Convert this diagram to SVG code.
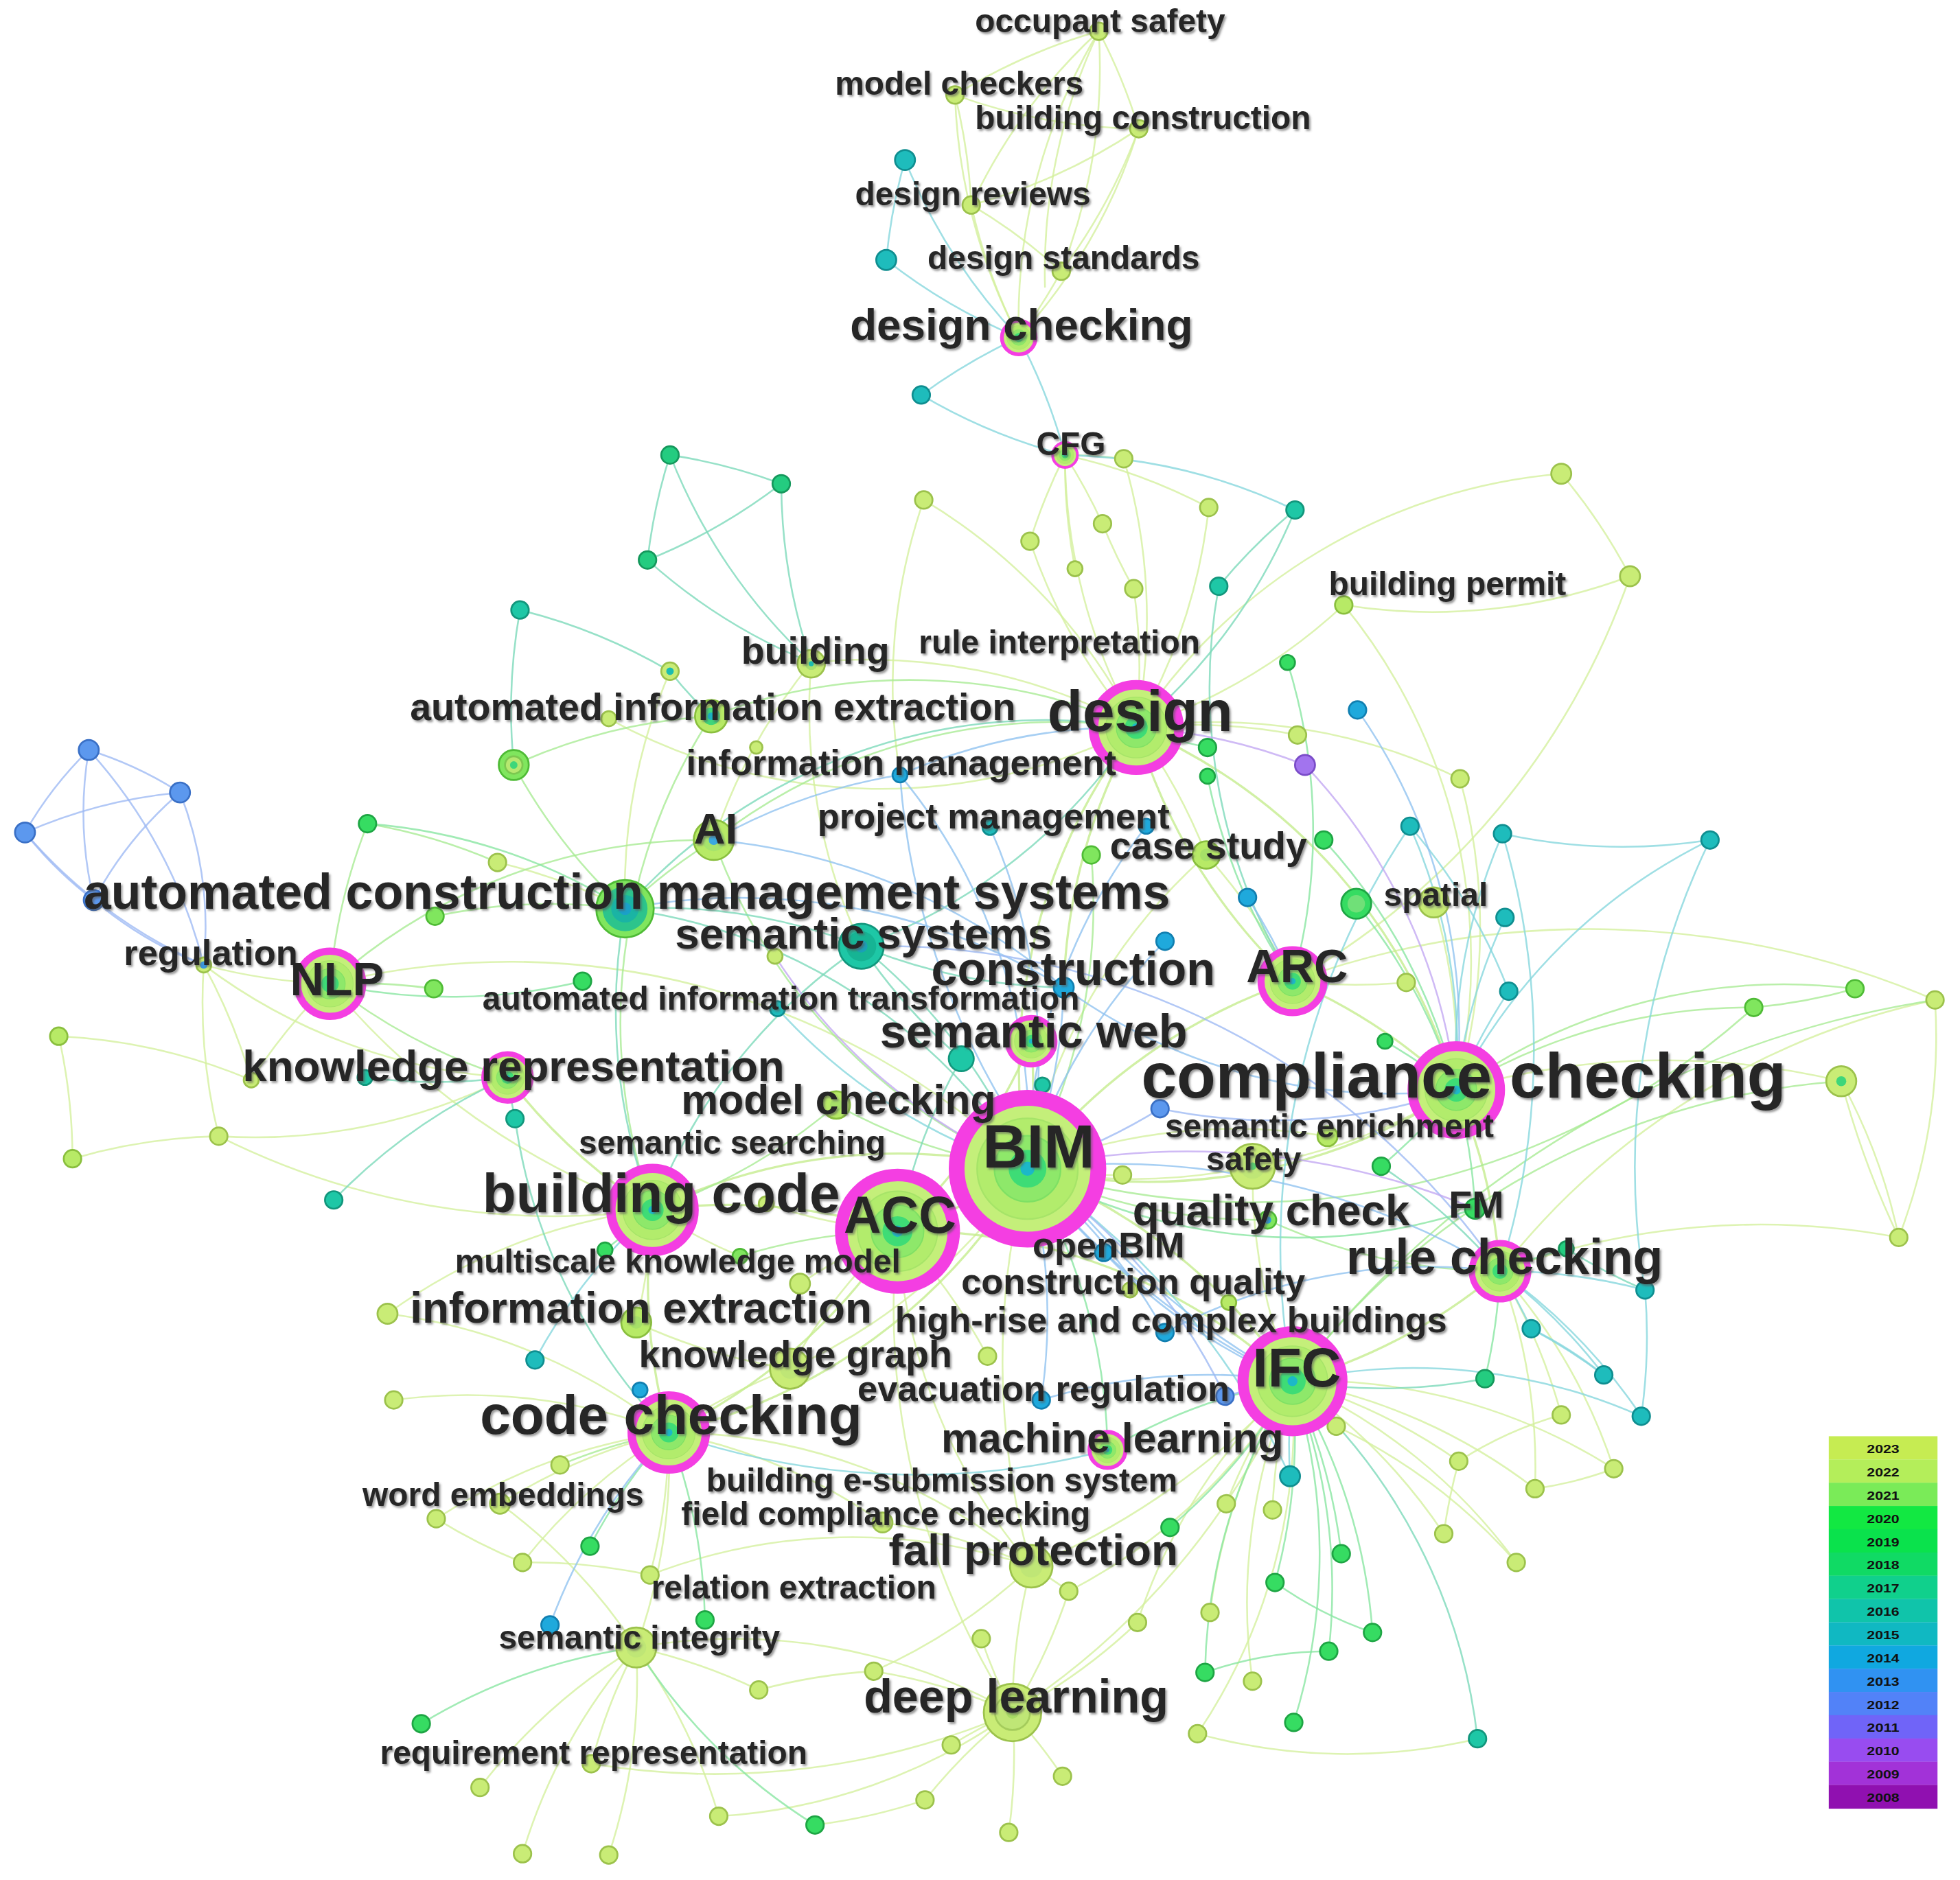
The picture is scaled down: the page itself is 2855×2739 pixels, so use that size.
<svg xmlns="http://www.w3.org/2000/svg" xmlns:xlink="http://www.w3.org/1999/xlink" width="2855" height="2739" viewBox="0 0 2855 2739">
<defs>
<style>
.e path{fill:none;stroke-width:1.4;stroke-opacity:0.78}
.e23 path{stroke:#d3f09c}
.e21 path{stroke:#a6ea92}
.e20 path{stroke:#86e6a0}
.e18 path{stroke:#7ad9b8}
.e16 path{stroke:#84d6dc}
.e14 path{stroke:#8ec2f0}
.e12 path{stroke:#9cb8f4}
.e10 path{stroke:#c2a6f2}
.hubE path{stroke:#c4ec8c;stroke-width:1.8}
.n circle{stroke-width:1.5}
.y23{fill:#c9ec76;stroke:#9cc24c}
.y22{fill:#b7ea66;stroke:#8abf3e}
.y21{fill:#80e65e;stroke:#4fbb36}
.y20{fill:#36dc62;stroke:#1ea544}
.y18{fill:#24cc80;stroke:#15985c}
.y17{fill:#1ec7a6;stroke:#12967c}
.y16{fill:#1ebcbc;stroke:#0f8e90}
.y14{fill:#1fa9dc;stroke:#117fb0}
.y12{fill:#5c98ee;stroke:#3a70c6}
.y10{fill:#a274ee;stroke:#7a4cc8}
.lb{font-family:"Liberation Sans",Arial,Helvetica,sans-serif;font-weight:bold;fill:#262626;filter:url(#sh)}
.f26{font-size:26.3px}.f29{font-size:28.8px}.f30{font-size:30.5px}.f33{font-size:33.3px}
.f35{font-size:35px}.f37{font-size:37.5px}.f39{font-size:39.3px}.f42{font-size:41.5px}
.f44{font-size:44px}.f46{font-size:46px}.f49{font-size:49px}.f51{font-size:51px}
.lg{font-family:"Liberation Sans",Arial,sans-serif;font-weight:bold;font-size:9.5px;fill:#111;text-anchor:middle}
</style>
<filter id="sh" x="-5%" y="-20%" width="110%" height="150%">
<feDropShadow dx="1.3" dy="1.5" stdDeviation="1" flood-color="#555" flood-opacity="0.6"/>
</filter>
<g id="hub">
<circle r="0.9" fill="#c4ef7a" stroke="#f43ee2" stroke-width="0.2"/>
<circle r="0.64" fill="#b2ec6c" stroke="#a6e468" stroke-width="0.02"/>
<circle r="0.42" fill="#8ee86a" stroke="#7ee064" stroke-width="0.02"/>
<circle r="0.24" fill="#3edc76"/>
<circle r="0.09" fill="#1cb8c8"/>
</g>
</defs>
<rect width="2855" height="2739" fill="#ffffff"/>
<g transform="scale(1.8208,1.8211)">
<g id="connectors">
<g class="e e23">
<path d="M879 25A450 450 0 0 0 764 76"/><path d="M879 25A450 450 0 0 0 777 164"/><path d="M879 25A450 450 0 0 1 911 103"/><path d="M879 25A450 450 0 0 1 849 217"/><path d="M879 25A450 450 0 0 0 815 270"/>
<path d="M764 76A450 450 0 0 1 777 164"/><path d="M764 76A450 450 0 0 0 815 270"/><path d="M764 76A450 450 0 0 0 911 103"/><path d="M911 103A450 450 0 0 1 777 164"/><path d="M911 103A450 450 0 0 1 849 217"/><path d="M911 103A450 450 0 0 1 815 270"/><path d="M777 164A450 450 0 0 1 849 217"/><path d="M777 164A450 450 0 0 0 815 270"/><path d="M849 217A450 450 0 0 1 815 270"/><path d="M879 25A450 450 0 0 0 836 230"/>
<path d="M852 364A450 450 0 0 1 899 367"/><path d="M852 364A450 450 0 0 0 909 582"/><path d="M852 364A450 450 0 0 1 967 406"/><path d="M852 364A450 450 0 0 0 824 433"/><path d="M852 364A450 450 0 0 1 882 419"/><path d="M852 364A450 450 0 0 0 860 455"/>
<path d="M899 367A450 450 0 0 1 909 582"/><path d="M967 406A450 450 0 0 1 909 582"/><path d="M824 433A450 450 0 0 0 909 582"/><path d="M882 419A450 450 0 0 0 907 471"/><path d="M907 471A450 450 0 0 1 909 582"/>
<path d="M1249 379A450 450 0 0 1 1304 461"/><path d="M1249 379A450 450 0 0 0 909 582"/><path d="M1304 461A450 450 0 0 1 1075 484"/><path d="M1304 461A600 600 0 0 1 1034 785"/><path d="M1075 484A450 450 0 0 1 909 582"/><path d="M1075 484A450 450 0 0 1 1165 872"/>
<path d="M739 400A450 450 0 0 0 720 620"/><path d="M739 400A450 450 0 0 1 909 582"/><path d="M649 530A450 450 0 0 1 909 582"/><path d="M649 530A450 450 0 0 0 571 672"/><path d="M649 530A450 450 0 0 0 689 757"/><path d="M536 537A450 450 0 0 0 500 727"/><path d="M487 575A450 450 0 0 0 909 582"/>
<path d="M909 582A450 450 0 0 1 1038 588"/><path d="M909 582A450 450 0 0 1 965 684"/><path d="M909 582A450 450 0 0 1 1168 623"/><path d="M1168 623A450 450 0 0 1 1165 872"/><path d="M1147 722A450 450 0 0 1 1165 872"/><path d="M965 684A450 450 0 0 1 1034 785"/><path d="M965 684A450 450 0 0 0 822 935"/>
<path d="M398 690A450 450 0 0 1 500 727"/><path d="M163 772A450 450 0 0 0 264 787"/><path d="M163 772A450 450 0 0 0 406 862"/><path d="M163 772A450 450 0 0 1 201 864"/><path d="M163 772A450 450 0 0 0 175 909"/><path d="M58 927A450 450 0 0 0 47 829"/><path d="M47 829A450 450 0 0 1 201 864"/><path d="M58 927A450 450 0 0 1 175 909"/><path d="M175 909A450 450 0 0 0 406 862"/><path d="M201 864A450 450 0 0 1 264 787"/><path d="M264 787A600 600 0 0 0 522 968"/><path d="M264 787A600 600 0 0 1 822 935"/><path d="M175 909A600 600 0 0 0 522 968"/>
<path d="M1548 800A450 450 0 0 1 1519 990"/><path d="M1473 865A450 450 0 0 1 1519 990"/><path d="M1548 800A600 600 0 0 0 1200 1017"/><path d="M1473 865A600 600 0 0 0 1165 872"/><path d="M1519 990A600 600 0 0 0 1200 1017"/><path d="M1125 786A450 450 0 0 1 1034 785"/><path d="M1002 933A450 450 0 0 1 822 935"/><path d="M1002 933A450 450 0 0 0 1165 872"/><path d="M1002 933A450 450 0 0 0 1034 1105"/><path d="M898 940A450 450 0 0 1 822 935"/><path d="M1062 909A450 450 0 0 0 822 935"/>
<path d="M1034 1105A450 450 0 0 1 1069 1141"/><path d="M1034 1105A450 450 0 0 1 1167 1169"/><path d="M1034 1105A450 450 0 0 1 1228 1191"/><path d="M1034 1105A450 450 0 0 1 1291 1175"/><path d="M1034 1105A450 450 0 0 1 1155 1227"/><path d="M1034 1105A450 450 0 0 1 1213 1250"/><path d="M1034 1105A450 450 0 0 0 981 1203"/><path d="M1034 1105A450 450 0 0 0 1018 1208"/><path d="M1034 1105A450 450 0 0 0 968 1290"/><path d="M1034 1105A450 450 0 0 0 910 1298"/><path d="M1034 1105A450 450 0 0 0 1002 1345"/><path d="M1034 1105A450 450 0 0 1 958 1387"/><path d="M1034 1105A450 450 0 0 1 855 1273"/>
<path d="M1249 1132A450 450 0 0 0 1200 1017"/><path d="M1200 1017A450 450 0 0 1 1228 1191"/><path d="M1200 1017A450 450 0 0 1 1291 1175"/><path d="M1069 1141A450 450 0 0 1 1213 1250"/><path d="M1167 1169A450 450 0 0 0 1155 1227"/><path d="M1167 1169A300 300 0 0 1 1249 1132"/><path d="M1228 1191A300 300 0 0 0 1291 1175"/>
<path d="M535 1146A450 450 0 0 0 400 1203"/><path d="M535 1146A450 450 0 0 0 349 1215"/><path d="M535 1146A450 450 0 0 0 418 1250"/><path d="M535 1146A450 450 0 0 1 520 1260"/><path d="M535 1146A450 450 0 0 0 315 1120"/><path d="M535 1146A450 450 0 0 1 509 1318"/><path d="M535 1146A450 450 0 0 1 706 1218"/><path d="M535 1146A450 450 0 0 1 825 1253"/><path d="M535 1146A450 450 0 0 1 632 1095"/><path d="M535 1146A450 450 0 0 0 310 1051"/>
<path d="M509 1318A450 450 0 0 0 473 1411"/><path d="M509 1318A450 450 0 0 0 384 1430"/><path d="M509 1318A450 450 0 0 0 418 1483"/><path d="M509 1318A450 450 0 0 1 487 1484"/><path d="M509 1318A450 450 0 0 1 575 1453"/><path d="M509 1318A450 450 0 0 1 607 1352"/><path d="M509 1318A450 450 0 0 0 400 1203"/><path d="M509 1318A450 450 0 0 1 810 1370"/>
<path d="M810 1370A450 450 0 0 0 761 1396"/><path d="M810 1370A450 450 0 0 1 850 1421"/><path d="M810 1370A450 450 0 0 0 740 1440"/><path d="M810 1370A450 450 0 0 1 807 1466"/><path d="M810 1370A450 450 0 0 0 699 1337"/><path d="M810 1370A450 450 0 0 1 785 1311"/><path d="M810 1370A450 450 0 0 1 575 1453"/><path d="M810 1370A450 450 0 0 1 825 1253"/><path d="M810 1370A450 450 0 0 0 910 1298"/><path d="M810 1370A450 450 0 0 0 855 1273"/><path d="M810 1370A600 600 0 0 0 1034 1105"/><path d="M810 1370A600 600 0 0 1 473 1411"/>
<path d="M825 1253A450 450 0 0 0 706 1218"/><path d="M825 1253A450 450 0 0 1 855 1273"/><path d="M825 1253A450 450 0 0 1 699 1337"/><path d="M825 1253A450 450 0 0 0 520 1260"/><path d="M825 1253A600 600 0 0 0 1034 1105"/><path d="M825 1253A600 600 0 0 1 822 935"/>
<path d="M718 985A450 450 0 0 1 745 1013"/><path d="M718 985A450 450 0 0 0 640 1027"/><path d="M718 985A450 450 0 0 1 790 1085"/><path d="M718 985A450 450 0 0 0 632 1095"/><path d="M718 985A450 450 0 0 0 825 1253"/><path d="M718 985A600 600 0 0 0 810 1370"/><path d="M718 985A450 450 0 0 1 613 963"/>
<path d="M522 968A450 450 0 0 0 310 1051"/><path d="M522 968A450 450 0 0 1 509 1058"/><path d="M522 968A450 450 0 0 0 592 1005"/><path d="M632 1095A450 450 0 0 0 822 935"/><path d="M632 1095A450 450 0 0 1 509 1058"/><path d="M607 1352A450 450 0 0 1 699 1337"/><path d="M652 1460A450 450 0 0 0 740 1440"/><path d="M418 1250A450 450 0 0 1 520 1260"/><path d="M349 1215A450 450 0 0 0 418 1250"/>
<path d="M958 1387A450 450 0 0 0 1182 1391"/><path d="M1548 800A700 700 0 0 0 1034 785"/><path d="M1519 990A700 700 0 0 1 1473 865"/>
</g>
<g class="e hubE">
<path d="M822 935A450 450 0 0 1 718 985"/><path d="M822 935A450 450 0 0 0 522 968"/><path d="M822 935A450 450 0 0 1 1034 1105"/><path d="M822 935A450 450 0 0 0 1165 872"/><path d="M822 935A450 450 0 0 0 825 833"/><path d="M822 935A450 450 0 0 1 1034 785"/><path d="M822 935A450 450 0 0 1 535 1146"/><path d="M1165 872A450 450 0 0 1 1200 1017"/><path d="M1165 872A450 450 0 0 0 1034 785"/><path d="M1200 1017A450 450 0 0 1 1034 1105"/><path d="M718 985A450 450 0 0 1 535 1146"/><path d="M718 985A450 450 0 0 1 1034 1105"/><path d="M522 968A450 450 0 0 0 535 1146"/><path d="M909 582A450 450 0 0 0 1034 785"/><path d="M909 582A450 450 0 0 0 851 790"/><path d="M909 582A450 450 0 0 1 1165 872"/><path d="M825 833A450 450 0 0 1 718 985"/><path d="M406 862A450 450 0 0 0 522 968"/><path d="M909 582A450 450 0 0 0 822 935"/><path d="M522 968A450 450 0 0 1 718 985"/>
</g>
<g class="e e21">
<path d="M294 659A450 450 0 0 1 398 690"/><path d="M294 659A450 450 0 0 0 264 787"/><path d="M348 733A450 450 0 0 1 500 727"/><path d="M347 791A450 450 0 0 0 264 787"/><path d="M411 612A450 450 0 0 0 500 727"/><path d="M411 612A450 450 0 0 1 569 573"/><path d="M569 573A450 450 0 0 1 909 582"/><path d="M569 573A450 450 0 0 0 522 968"/><path d="M571 672A450 450 0 0 1 909 582"/><path d="M571 672A450 450 0 0 0 822 935"/><path d="M571 672A450 450 0 0 0 500 727"/><path d="M873 684A450 450 0 0 1 822 935"/><path d="M1403 806A450 450 0 0 0 1165 872"/><path d="M1484 791A450 450 0 0 0 1165 872"/><path d="M1403 806A600 600 0 0 1 822 935"/><path d="M1484 791A450 450 0 0 1 1403 806"/><path d="M1014 976A450 450 0 0 1 822 935"/><path d="M1014 976A450 450 0 0 0 1200 1017"/><path d="M448 1172A450 450 0 0 1 535 1146"/><path d="M592 1005A450 450 0 0 1 718 985"/><path d="M669 884A450 450 0 0 0 822 935"/><path d="M669 884A450 450 0 0 1 522 968"/><path d="M264 787A450 450 0 0 1 571 672"/><path d="M264 787A450 450 0 0 0 406 862"/><path d="M1473 865A600 600 0 0 0 1034 1105"/><path d="M1548 800A800 800 0 0 0 1034 1105"/>
</g>
<g class="e e20">
<path d="M466 785A450 450 0 0 1 264 787"/><path d="M966 598A450 450 0 0 1 909 582"/><path d="M966 621A450 450 0 0 0 1034 785"/><path d="M1030 530A450 450 0 0 1 1034 785"/><path d="M1059 672A450 450 0 0 1 1165 872"/><path d="M1085 723A450 450 0 0 1 1165 872"/><path d="M1108 833A450 450 0 0 1 1165 872"/><path d="M1105 933A450 450 0 0 0 1165 872"/><path d="M1180 967A450 450 0 0 0 1165 872"/><path d="M1180 967A450 450 0 0 1 822 935"/><path d="M936 1222A450 450 0 0 0 1034 1105"/><path d="M1073 1243A450 450 0 0 0 1034 1105"/><path d="M1020 1266A450 450 0 0 0 1034 1105"/><path d="M1063 1321A450 450 0 0 0 1034 1105"/><path d="M1098 1306A450 450 0 0 0 1034 1105"/><path d="M964 1338A450 450 0 0 1 1034 1105"/><path d="M1035 1378A450 450 0 0 0 1034 1105"/><path d="M472 1237A450 450 0 0 1 535 1146"/><path d="M564 1296A450 450 0 0 0 535 1146"/><path d="M337 1379A450 450 0 0 1 509 1318"/><path d="M652 1460A450 450 0 0 1 509 1318"/><path d="M484 1000A450 450 0 0 0 522 968"/><path d="M294 659A450 450 0 0 1 500 727"/><path d="M1188 1103A450 450 0 0 0 1200 1017"/><path d="M1253 999A450 450 0 0 0 1200 1017"/><path d="M886 1160A450 450 0 0 1 1034 1105"/><path d="M886 1160A450 450 0 0 0 822 935"/><path d="M1020 1266A300 300 0 0 0 1098 1306"/><path d="M964 1338A300 300 0 0 1 1063 1321"/>
</g>
<g class="e e18">
<path d="M536 364A450 450 0 0 1 625 387"/><path d="M536 364A450 450 0 0 0 518 448"/><path d="M625 387A450 450 0 0 1 518 448"/><path d="M536 364A450 450 0 0 0 649 530"/><path d="M625 387A450 450 0 0 0 649 530"/><path d="M518 448A450 450 0 0 0 649 530"/><path d="M416 488A450 450 0 0 1 536 537"/><path d="M416 488A450 450 0 0 0 411 612"/><path d="M536 537A300 300 0 0 0 569 573"/><path d="M975 469A450 450 0 0 1 1036 408"/><path d="M1036 408A450 450 0 0 1 909 582"/><path d="M975 469A450 450 0 0 0 1034 785"/><path d="M689 757A450 450 0 0 1 822 935"/><path d="M689 757A450 450 0 0 0 851 790"/><path d="M689 757A450 450 0 0 0 522 968"/><path d="M689 757A450 450 0 0 0 909 582"/><path d="M769 847A450 450 0 0 0 718 985"/><path d="M769 847A450 450 0 0 1 689 757"/><path d="M500 727A450 450 0 0 1 689 757"/><path d="M500 727A450 450 0 0 1 822 935"/><path d="M500 727A450 450 0 0 0 522 968"/><path d="M500 727A450 450 0 0 1 909 582"/><path d="M412 895A450 450 0 0 1 406 862"/><path d="M412 895A450 450 0 0 0 535 1146"/><path d="M267 960A450 450 0 0 1 406 862"/><path d="M292 862A450 450 0 0 0 406 862"/><path d="M834 868A450 450 0 0 0 822 935"/><path d="M1182 1391A450 450 0 0 0 1034 1105"/><path d="M1188 1103A450 450 0 0 1 1034 1105"/><path d="M1253 999A450 450 0 0 0 1316 1032"/><path d="M1105 933A450 450 0 0 1 1200 1017"/>
</g>
<g class="e e16">
<path d="M724 128A450 450 0 0 0 709 208"/><path d="M724 128A450 450 0 0 0 815 270"/><path d="M709 208A450 450 0 0 0 815 270"/><path d="M815 270A450 450 0 0 0 737 316"/><path d="M815 270A450 450 0 0 1 852 364"/><path d="M737 316A450 450 0 0 0 852 364"/><path d="M1036 408A450 450 0 0 0 852 364"/><path d="M1128 661A450 450 0 0 1 1165 872"/><path d="M1202 667A450 450 0 0 0 1165 872"/><path d="M1204 734A450 450 0 0 0 1165 872"/><path d="M1207 793A450 450 0 0 0 1165 872"/><path d="M1368 672A450 450 0 0 0 1165 872"/><path d="M1368 672A450 450 0 0 1 1202 667"/><path d="M1128 661A450 450 0 0 1 1207 793"/><path d="M1316 1032A450 450 0 0 0 1200 1017"/><path d="M1316 1032A450 450 0 0 1 1313 1133"/><path d="M1225 1063A450 450 0 0 0 1200 1017"/><path d="M1283 1100A450 450 0 0 0 1200 1017"/><path d="M1313 1133A450 450 0 0 0 1200 1017"/><path d="M1313 1133A450 450 0 0 0 1034 1105"/><path d="M1032 1181A450 450 0 0 1 1034 1105"/><path d="M1032 1181A600 600 0 0 0 822 935"/><path d="M1316 1032A600 600 0 0 1 1368 672"/><path d="M428 1088A450 450 0 0 1 522 968"/><path d="M622 807A450 450 0 0 0 822 935"/><path d="M886 1160A600 600 0 0 1 535 1146"/><path d="M1283 1100A450 450 0 0 0 1225 1063"/><path d="M1128 661A600 600 0 0 0 1034 1105"/><path d="M1202 667A600 600 0 0 1 1200 1017"/><path d="M1225 1063A300 300 0 0 1 1283 1100"/>
</g>
<g class="e e14">
<path d="M720 620A450 450 0 0 1 822 935"/><path d="M720 620A450 450 0 0 0 571 672"/><path d="M720 620A450 450 0 0 1 909 582"/><path d="M792 662A450 450 0 0 1 822 935"/><path d="M917 661A450 450 0 0 0 822 935"/><path d="M932 753A450 450 0 0 0 822 935"/><path d="M998 718A450 450 0 0 1 1034 785"/><path d="M851 790A450 450 0 0 1 822 935"/><path d="M851 790A450 450 0 0 0 1165 872"/><path d="M883 1002A450 450 0 0 1 822 935"/><path d="M883 1002A450 450 0 0 0 1034 1105"/><path d="M932 1066A450 450 0 0 0 822 935"/><path d="M932 1066A450 450 0 0 1 1200 1017"/><path d="M833 1120A450 450 0 0 1 1034 1105"/><path d="M833 1120A450 450 0 0 0 822 935"/><path d="M512 1112A450 450 0 0 1 535 1146"/><path d="M440 1300A450 450 0 0 1 535 1146"/><path d="M1086 568A450 450 0 0 1 1165 872"/><path d="M822 935A600 600 0 0 1 1200 1017"/><path d="M822 935A600 600 0 0 0 1034 1105"/><path d="M720 620A600 600 0 0 0 1034 1105"/><path d="M571 672A500 500 0 0 1 851 790"/><path d="M500 727A500 500 0 0 1 851 790"/>
</g>
<g class="e e12">
<path d="M71 600A300 300 0 0 1 144 634"/><path d="M71 600A300 300 0 0 0 20 666"/><path d="M71 600A300 300 0 0 0 75 720"/><path d="M71 600A400 400 0 0 1 163 772"/><path d="M144 634A300 300 0 0 1 163 772"/><path d="M144 634A400 400 0 0 0 20 666"/><path d="M144 634A300 300 0 0 0 75 720"/><path d="M20 666A300 300 0 0 0 75 720"/><path d="M20 666A400 400 0 0 0 163 772"/><path d="M75 720A300 300 0 0 0 163 772"/><path d="M928 887A450 450 0 0 1 822 935"/><path d="M928 887A450 450 0 0 0 1165 872"/><path d="M980 1117A450 450 0 0 1 1034 1105"/><path d="M980 1117A450 450 0 0 0 822 935"/><path d="M689 757A600 600 0 0 1 1200 1017"/>
</g>
<g class="e e10">
<path d="M1044 612A450 450 0 0 1 1165 872"/><path d="M1044 612A450 450 0 0 0 909 582"/><path d="M620 765A450 450 0 0 0 822 935"/><path d="M822 935A600 600 0 0 1 1180 967"/>
</g>
</g>
<g id="nodes" class="n">
<g id="n-occupant-safety"><circle class="y23" cx="879" cy="25" r="7"/></g>
<g id="n-model-checkers"><circle class="y23" cx="764" cy="76" r="7"/></g>
<g id="n-building-construction"><circle class="y23" cx="911" cy="103" r="7"/></g>
<g id="n-t1"><circle class="y16" cx="724" cy="128" r="8"/></g>
<g id="n-design-reviews"><circle class="y23" cx="777" cy="164" r="7"/></g>
<g id="n-t2"><circle class="y16" cx="709" cy="208" r="8"/></g>
<g id="n-design-standards"><circle class="y23" cx="849" cy="217" r="7"/></g>
<g id="n-t3"><circle class="y16" cx="737" cy="316" r="7"/></g>
<g id="n-u1"><circle class="y18" cx="536" cy="364" r="7"/></g>
<g id="n-u2"><circle class="y18" cx="625" cy="387" r="7"/></g>
<g id="n-u3"><circle class="y18" cx="518" cy="448" r="7"/></g>
<g id="n-u4"><circle class="y23" cx="739" cy="400" r="7"/></g>
<g id="n-u5"><circle class="y23" cx="899" cy="367" r="7"/></g>
<g id="n-u6"><circle class="y23" cx="967" cy="406" r="7"/></g>
<g id="n-u7"><circle class="y17" cx="1036" cy="408" r="7"/></g>
<g id="n-u8"><circle class="y23" cx="824" cy="433" r="7"/></g>
<g id="n-u9"><circle class="y23" cx="882" cy="419" r="7"/></g>
<g id="n-u10"><circle class="y23" cx="860" cy="455" r="6"/></g>
<g id="n-u11"><circle class="y23" cx="1249" cy="379" r="8"/></g>
<g id="n-u12"><circle class="y23" cx="1304" cy="461" r="8"/></g>
<g id="n-u13"><circle class="y17" cx="975" cy="469" r="7"/></g>
<g id="n-u14"><circle class="y23" cx="907" cy="471" r="7"/></g>
<g id="n-building-permit"><circle class="y22" cx="1075" cy="484" r="7"/></g>
<g id="n-u15"><circle class="y20" cx="1030" cy="530" r="6"/></g>
<g id="n-u16"><circle class="y17" cx="416" cy="488" r="7"/></g>
<g id="n-u17"><circle class="y23" cx="536" cy="537" r="7"/><circle cx="536" cy="537" r="3" fill="#1cbcb0"/></g>
<g id="n-building"><circle class="y23" cx="649" cy="531" r="11"/><circle cx="649" cy="531" r="5" fill="#a8e070"/><circle cx="649" cy="531" r="2" fill="#1cbcb0"/></g>
<g id="n-automated-information-extraction"><circle class="y22" cx="569" cy="573" r="13"/><circle cx="569" cy="573" r="7" fill="#3ed67a"/><circle cx="569" cy="573" r="3" fill="#1cb0c0"/></g>
<g id="n-u18"><circle class="y21" cx="411" cy="612" r="12"/><circle cx="411" cy="612" r="7" fill="#b6e870" stroke="#7cc850" stroke-width="1"/><circle cx="411" cy="612" r="3" fill="#3ed67a"/></g>
<g id="n-u19"><circle class="y23" cx="487" cy="575" r="6"/></g>
<g id="n-u20"><circle class="y20" cx="966" cy="598" r="7"/></g>
<g id="n-u21"><circle class="y23" cx="1038" cy="588" r="7"/></g>
<g id="n-u22"><circle class="y10" cx="1044" cy="612" r="8"/></g>
<g id="n-u23"><circle class="y14" cx="1086" cy="568" r="7"/></g>
<g id="n-u24"><circle class="y23" cx="1168" cy="623" r="7"/></g>
<g id="n-u25"><circle class="y20" cx="966" cy="621" r="6"/></g>
<g id="n-information-management"><circle class="y14" cx="720" cy="620" r="6"/></g>
<g id="n-u26"><circle class="y23" cx="605" cy="598" r="5"/></g>
<g id="n-ai"><circle class="y22" cx="571" cy="672" r="16"/><circle cx="571" cy="672" r="9" fill="#a6e46c"/><circle cx="571" cy="672" r="4" fill="#3aa8e0"/></g>
<g id="n-m1"><circle class="y20" cx="294" cy="659" r="7"/></g>
<g id="n-m2"><circle class="y23" cx="398" cy="690" r="7"/></g>
<g id="n-project-management"><circle class="y16" cx="792" cy="662" r="6"/></g>
<g id="n-m3"><circle class="y21" cx="873" cy="684" r="7"/></g>
<g id="n-m4"><circle class="y14" cx="917" cy="661" r="6"/></g>
<g id="n-case-study"><circle class="y22" cx="965" cy="684" r="11"/><circle cx="965" cy="684" r="5" fill="#a6e068"/></g>
<g id="n-m5"><circle class="y20" cx="1059" cy="672" r="7"/></g>
<g id="n-m6"><circle class="y16" cx="1128" cy="661" r="7"/></g>
<g id="n-m7"><circle class="y16" cx="1202" cy="667" r="7"/></g>
<g id="n-m8"><circle class="y16" cx="1368" cy="672" r="7"/></g>
<g id="n-m9"><circle class="y20" cx="1085" cy="723" r="12"/><circle cx="1085" cy="723" r="7" fill="#70e078"/></g>
<g id="n-spatial"><circle class="y23" cx="1147" cy="722" r="12"/><circle cx="1147" cy="722" r="6" fill="#bfe67a"/></g>
<g id="n-m10"><circle class="y14" cx="998" cy="718" r="7"/></g>
<g id="n-m11"><circle class="y16" cx="1204" cy="734" r="7"/></g>
<g id="n-automated-construction-management-systems"><circle class="y21" cx="500" cy="727" r="23"/><circle cx="500" cy="727" r="18" fill="#2cc48c"/><circle cx="500" cy="727" r="11" fill="#1ab4a4"/><circle cx="500" cy="727" r="5" fill="#1aa0c8"/></g>
<g id="n-m12"><circle class="y21" cx="348" cy="733" r="7"/></g>
<g id="n-semantic-systems"><circle class="y17" cx="689" cy="757" r="18"/><circle cx="689" cy="757" r="12" fill="#16b494"/><circle cx="689" cy="757" r="5" fill="#1aa0b8"/></g>
<g id="n-m13"><circle class="y14" cx="932" cy="753" r="7"/></g>
<g id="n-regulation"><circle class="y23" cx="163" cy="772" r="6"/><circle cx="163" cy="772" r="3" fill="#3a98e0"/></g>
<g id="n-m14"><circle class="y21" cx="347" cy="791" r="7"/></g>
<g id="n-m15"><circle class="y20" cx="466" cy="785" r="7"/></g>
<g id="n-m16"><circle class="y23" cx="620" cy="765" r="6"/></g>
<g id="n-construction"><circle class="y14" cx="851" cy="790" r="8"/></g>
<g id="n-m17"><circle class="y16" cx="1207" cy="793" r="7"/></g>
<g id="n-m18"><circle class="y23" cx="1125" cy="786" r="7"/></g>
<g id="n-m19"><circle class="y21" cx="1403" cy="806" r="7"/></g>
<g id="n-m20"><circle class="y21" cx="1484" cy="791" r="7"/></g>
<g id="n-m21"><circle class="y23" cx="1548" cy="800" r="7"/></g>
<g id="n-m22"><circle class="y23" cx="1473" cy="865" r="12"/><circle cx="1473" cy="865" r="4" fill="#3ed67a"/></g>
<g id="n-m23"><circle class="y23" cx="1519" cy="990" r="7"/></g>
<g id="n-automated-information-transformation"><circle class="y16" cx="622" cy="807" r="6"/></g>
<g id="n-m24"><circle class="y17" cx="769" cy="847" r="10"/></g>
<g id="n-m25"><circle class="y20" cx="1108" cy="833" r="6"/></g>
<g id="n-l1"><circle class="y22" cx="47" cy="829" r="7"/></g>
<g id="n-l2"><circle class="y22" cx="58" cy="927" r="7"/></g>
<g id="n-l3"><circle class="y23" cx="175" cy="909" r="7"/></g>
<g id="n-l4"><circle class="y23" cx="201" cy="864" r="6"/></g>
<g id="n-l5"><circle class="y17" cx="292" cy="862" r="6"/></g>
<g id="n-l6"><circle class="y17" cx="412" cy="895" r="7"/></g>
<g id="n-c1"><circle class="y17" cx="834" cy="868" r="6"/></g>
<g id="n-c2"><circle class="y12" cx="928" cy="887" r="7"/></g>
<g id="n-model-checking"><circle class="y22" cx="669" cy="884" r="11"/><circle cx="669" cy="884" r="5" fill="#a6e068"/></g>
<g id="n-c3"><circle class="y23" cx="898" cy="940" r="7"/></g>
<g id="n-safety"><circle class="y23" cx="1002" cy="933" r="18"/><circle cx="1002" cy="933" r="10" fill="#bfe676"/><circle cx="1002" cy="933" r="3" fill="#5ad070"/></g>
<g id="n-semantic-enrichment"><circle class="y22" cx="1062" cy="909" r="8"/></g>
<g id="n-c4"><circle class="y20" cx="1105" cy="933" r="7"/></g>
<g id="n-fm"><circle class="y20" cx="1180" cy="967" r="8"/></g>
<g id="n-quality-check"><circle class="y21" cx="1014" cy="976" r="7"/><circle cx="1014" cy="976" r="3" fill="#2aa0e0"/></g>
<g id="n-c5"><circle class="y23" cx="745" cy="1013" r="8"/></g>
<g id="n-c6"><circle class="y17" cx="267" cy="960" r="7"/></g>
<g id="n-c7"><circle class="y23" cx="613" cy="963" r="6"/></g>
<g id="n-c8"><circle class="y23" cx="640" cy="1027" r="8"/></g>
<g id="n-c9"><circle class="y21" cx="592" cy="1005" r="6"/></g>
<g id="n-c10"><circle class="y20" cx="484" cy="1000" r="6"/></g>
<g id="n-openbim"><circle class="y14" cx="883" cy="1002" r="7"/></g>
<g id="n-r1"><circle class="y16" cx="1316" cy="1032" r="7"/></g>
<g id="n-r2"><circle class="y16" cx="1225" cy="1063" r="7"/></g>
<g id="n-r3"><circle class="y16" cx="1283" cy="1100" r="7"/></g>
<g id="n-r4"><circle class="y16" cx="1313" cy="1133" r="7"/></g>
<g id="n-r5"><circle class="y18" cx="1188" cy="1103" r="7"/></g>
<g id="n-r6"><circle class="y23" cx="1249" cy="1132" r="7"/></g>
<g id="n-r7"><circle class="y18" cx="1253" cy="999" r="6"/></g>
<g id="n-construction-quality"><circle class="y23" cx="904" cy="1032" r="6"/></g>
<g id="n-c11"><circle class="y14" cx="932" cy="1066" r="7"/></g>
<g id="n-high-rise"><circle fill="#d8c890" stroke="#a8a060" cx="1033" cy="1069" r="7"/></g>
<g id="n-c12"><circle class="y22" cx="983" cy="1042" r="6"/></g>
<g id="n-c13"><circle class="y23" cx="310" cy="1051" r="8"/></g>
<g id="n-information-extraction"><circle class="y22" cx="509" cy="1058" r="12"/><circle cx="509" cy="1058" r="5" fill="#a6e068"/></g>
<g id="n-c14"><circle class="y16" cx="428" cy="1088" r="7"/></g>
<g id="n-c15"><circle class="y23" cx="790" cy="1085" r="7"/></g>
<g id="n-knowledge-graph"><circle class="y23" cx="632" cy="1095" r="16"/><circle cx="632" cy="1095" r="8" fill="#bfe676"/></g>
<g id="n-evacuation-regulation"><circle class="y12" cx="980" cy="1117" r="7"/></g>
<g id="n-c16"><circle class="y14" cx="833" cy="1120" r="7"/></g>
<g id="n-c17"><circle class="y23" cx="315" cy="1120" r="7"/></g>
<g id="n-c18"><circle class="y14" cx="512" cy="1112" r="6"/></g>
<g id="n-b1"><circle class="y23" cx="1069" cy="1141" r="7"/></g>
<g id="n-b2"><circle class="y16" cx="1032" cy="1181" r="8"/></g>
<g id="n-b3"><circle class="y23" cx="1167" cy="1169" r="7"/></g>
<g id="n-b4"><circle class="y23" cx="1228" cy="1191" r="7"/></g>
<g id="n-b5"><circle class="y23" cx="1291" cy="1175" r="7"/></g>
<g id="n-b6"><circle class="y23" cx="1155" cy="1227" r="7"/></g>
<g id="n-b7"><circle class="y23" cx="1213" cy="1250" r="7"/></g>
<g id="n-b8"><circle class="y20" cx="936" cy="1222" r="7"/></g>
<g id="n-b9"><circle class="y23" cx="981" cy="1203" r="7"/></g>
<g id="n-b10"><circle class="y20" cx="1073" cy="1243" r="7"/></g>
<g id="n-b11"><circle class="y23" cx="1018" cy="1208" r="7"/></g>
<g id="n-b12"><circle class="y23" cx="448" cy="1172" r="7"/></g>
<g id="n-b13"><circle class="y23" cx="400" cy="1203" r="8"/></g>
<g id="n-b14"><circle class="y23" cx="349" cy="1215" r="7"/></g>
<g id="n-b15"><circle class="y23" cx="418" cy="1250" r="7"/></g>
<g id="n-b16"><circle class="y20" cx="472" cy="1237" r="7"/></g>
<g id="n-b17"><circle class="y23" cx="520" cy="1260" r="7"/></g>
<g id="n-b18"><circle class="y23" cx="706" cy="1218" r="8"/></g>
<g id="n-fall-protection"><circle class="y23" cx="825" cy="1253" r="17"/><circle cx="825" cy="1253" r="9" fill="#bfe676"/></g>
<g id="n-b19"><circle class="y23" cx="855" cy="1273" r="7"/></g>
<g id="n-b20"><circle class="y20" cx="1020" cy="1266" r="7"/></g>
<g id="n-b21"><circle class="y23" cx="968" cy="1290" r="7"/></g>
<g id="n-b22"><circle class="y23" cx="910" cy="1298" r="7"/></g>
<g id="n-b23"><circle class="y20" cx="1063" cy="1321" r="7"/></g>
<g id="n-b24"><circle class="y20" cx="1098" cy="1306" r="7"/></g>
<g id="n-b25"><circle class="y20" cx="564" cy="1296" r="7"/></g>
<g id="n-b26"><circle class="y14" cx="440" cy="1300" r="7"/></g>
<g id="n-semantic-integrity"><circle class="y23" cx="509" cy="1318" r="16"/><circle cx="509" cy="1318" r="8" fill="#bfe676"/></g>
<g id="n-b27"><circle class="y23" cx="785" cy="1311" r="7"/></g>
<g id="n-b28"><circle class="y23" cx="699" cy="1337" r="7"/></g>
<g id="n-b29"><circle class="y20" cx="964" cy="1338" r="7"/></g>
<g id="n-b30"><circle class="y23" cx="1002" cy="1345" r="7"/></g>
<g id="n-b31"><circle class="y20" cx="1035" cy="1378" r="7"/></g>
<g id="n-b32"><circle class="y23" cx="958" cy="1387" r="7"/></g>
<g id="n-b33"><circle class="y17" cx="1182" cy="1391" r="7"/></g>
<g id="n-b34"><circle class="y23" cx="607" cy="1352" r="7"/></g>
<g id="n-deep-learning"><circle class="y23" cx="810" cy="1370" r="23"/><circle cx="810" cy="1370" r="14" fill="#bfe676" stroke="#a4cc5c" stroke-width="1"/><circle cx="810" cy="1370" r="5" fill="#a8dc64"/></g>
<g id="n-b35"><circle class="y20" cx="337" cy="1379" r="7"/></g>
<g id="n-requirement-representation"><circle class="y23" cx="473" cy="1411" r="7"/></g>
<g id="n-b36"><circle class="y23" cx="384" cy="1430" r="7"/></g>
<g id="n-b37"><circle class="y23" cx="761" cy="1396" r="7"/></g>
<g id="n-b38"><circle class="y23" cx="850" cy="1421" r="7"/></g>
<g id="n-b39"><circle class="y23" cx="740" cy="1440" r="7"/></g>
<g id="n-b40"><circle class="y23" cx="575" cy="1453" r="7"/></g>
<g id="n-b41"><circle class="y20" cx="652" cy="1460" r="7"/></g>
<g id="n-b42"><circle class="y23" cx="418" cy="1483" r="7"/></g>
<g id="n-b43"><circle class="y23" cx="487" cy="1484" r="7"/></g>
<g id="n-b44"><circle class="y23" cx="807" cy="1466" r="7"/></g>
<g id="n-k1"><circle class="y12" cx="71" cy="600" r="8"/></g>
<g id="n-k2"><circle class="y12" cx="144" cy="634" r="8"/></g>
<g id="n-k3"><circle class="y12" cx="20" cy="666" r="8"/></g>
<g id="n-k4"><circle class="y12" cx="75" cy="720" r="8"/></g>
<g id="n-design-checking"><use href="#hub" transform="translate(815,270) scale(15)"/></g>
<g id="n-cfg"><use href="#hub" transform="translate(852,364) scale(11)"/></g>
<g id="n-design"><use href="#hub" transform="translate(909,582) scale(38)"/></g>
<g id="n-nlp"><use href="#hub" transform="translate(264,787) scale(29)"/></g>
<g id="n-arc"><use href="#hub" transform="translate(1034,785) scale(28)"/></g>
<g id="n-semantic-web"><use href="#hub" transform="translate(825,833) scale(21)"/></g>
<g id="n-knowledge-representation"><use href="#hub" transform="translate(406,862) scale(21)"/></g>
<g id="n-compliance-checking"><use href="#hub" transform="translate(1165,872) scale(39)"/></g>
<g id="n-building-code"><use href="#hub" transform="translate(522,968) scale(37)"/></g>
<g id="n-acc"><use href="#hub" transform="translate(718,985) scale(50)"/></g>
<g id="n-rule-checking"><use href="#hub" transform="translate(1200,1017) scale(25)"/></g>
<g id="n-ifc"><use href="#hub" transform="translate(1034,1105) scale(44)"/></g>
<g id="n-code-checking"><use href="#hub" transform="translate(535,1146) scale(33)"/></g>
<g id="n-machine-learning"><use href="#hub" transform="translate(886,1160) scale(16)"/></g>
<g id="n-bim"><use href="#hub" transform="translate(822,935) scale(63)"/></g>
</g>
<g id="labels">
<text class="lb f26" x="780" y="26">occupant safety</text>
<text class="lb f26" x="668" y="76">model checkers</text>
<text class="lb f26" x="780" y="103">building construction</text>
<text class="lb f26" x="684" y="164">design reviews</text>
<text class="lb f26" x="742" y="215">design standards</text>
<text class="lb f35" x="680" y="272">design checking</text>
<text class="lb f26" x="829" y="364">CFG</text>
<text class="lb f26" x="1063" y="476">building permit</text>
<text class="lb f26" x="735" y="523">rule interpretation</text>
<text class="lb f30" x="593" y="531">building</text>
<text class="lb f46" x="838" y="585">design</text>
<text class="lb f30" x="328" y="576">automated information extraction</text>
<text class="lb f29" x="549" y="620">information management</text>
<text class="lb f35" x="555" y="675">AI</text>
<text class="lb f29" x="654" y="663">project management</text>
<text class="lb f30" x="888" y="687">case study</text>
<text class="lb f26" x="1107" y="725">spatial</text>
<text class="lb f39" x="67" y="727">automated construction management systems</text>
<text class="lb f35" x="540" y="759">semantic systems</text>
<text class="lb f29" x="99" y="772">regulation</text>
<text class="lb f37" x="232" y="796">NLP</text>
<text class="lb f37" x="745" y="788">construction</text>
<text class="lb f37" x="997" y="786">ARC</text>
<text class="lb f26" x="386" y="808">automated information transformation</text>
<text class="lb f37" x="704" y="838">semantic web</text>
<text class="lb f35" x="194" y="865">knowledge representation</text>
<text class="lb f51" x="913" y="878">compliance checking</text>
<text class="lb f33" x="545" y="891">model checking</text>
<text class="lb f26" x="932" y="910">semantic enrichment</text>
<text class="lb f26" x="463" y="923">semantic searching</text>
<text class="lb f49" x="786" y="934">BIM</text>
<text class="lb f26" x="965" y="936">safety</text>
<text class="lb f44" x="386" y="970">building code</text>
<text class="lb f42" x="675" y="986">ACC</text>
<text class="lb f35" x="906" y="980">quality check</text>
<text class="lb f30" x="1159" y="974">FM</text>
<text class="lb f39" x="1077" y="1019">rule checking</text>
<text class="lb f29" x="826" y="1006">openBIM</text>
<text class="lb f26" x="364" y="1018">multiscale knowledge model</text>
<text class="lb f29" x="769" y="1035">construction quality</text>
<text class="lb f35" x="328" y="1058">information extraction</text>
<text class="lb f29" x="716" y="1066">high-rise and complex buildings</text>
<text class="lb f30" x="511" y="1094">knowledge graph</text>
<text class="lb f44" x="1002" y="1109">IFC</text>
<text class="lb f29" x="686" y="1121">evacuation regulation</text>
<text class="lb f44" x="384" y="1147">code checking</text>
<text class="lb f33" x="753" y="1162">machine learning</text>
<text class="lb f26" x="565" y="1193">building e-submission system</text>
<text class="lb f26" x="290" y="1205">word embeddings</text>
<text class="lb f26" x="545" y="1220">field compliance checking</text>
<text class="lb f35" x="711" y="1252">fall protection</text>
<text class="lb f26" x="521" y="1279">relation extraction</text>
<text class="lb f26" x="399" y="1319">semantic integrity</text>
<text class="lb f37" x="691" y="1370">deep learning</text>
<text class="lb f26" x="304" y="1411">requirement representation</text>
</g>
<g id="legend">
<rect x="1463" y="1149" width="87" height="18.7" fill="#c6ec52"/>
<rect x="1463" y="1167.6" width="87" height="18.7" fill="#b4ee5a"/>
<rect x="1463" y="1186.2" width="87" height="18.7" fill="#7aeb58"/>
<rect x="1463" y="1204.8" width="87" height="18.7" fill="#12e842"/>
<rect x="1463" y="1223.4" width="87" height="18.7" fill="#0ae24c"/>
<rect x="1463" y="1242" width="87" height="18.7" fill="#10da64"/>
<rect x="1463" y="1260.6" width="87" height="18.7" fill="#10d08c"/>
<rect x="1463" y="1279.2" width="87" height="18.7" fill="#10c4aa"/>
<rect x="1463" y="1297.8" width="87" height="18.7" fill="#10b8c2"/>
<rect x="1463" y="1316.4" width="87" height="18.7" fill="#10a8e0"/>
<rect x="1463" y="1335" width="87" height="18.7" fill="#3092f2"/>
<rect x="1463" y="1353.6" width="87" height="18.7" fill="#5282f8"/>
<rect x="1463" y="1372.2" width="87" height="18.7" fill="#7064f8"/>
<rect x="1463" y="1390.8" width="87" height="18.7" fill="#984cf0"/>
<rect x="1463" y="1409.4" width="87" height="18.7" fill="#a232d8"/>
<rect x="1463" y="1428" width="87" height="19" fill="#9010b0"/>
<text class="lg" x="1506.5" y="1162.5" textLength="26" lengthAdjust="spacingAndGlyphs">2023</text>
<text class="lg" x="1506.5" y="1181.1" textLength="26" lengthAdjust="spacingAndGlyphs">2022</text>
<text class="lg" x="1506.5" y="1199.7" textLength="26" lengthAdjust="spacingAndGlyphs">2021</text>
<text class="lg" x="1506.5" y="1218.3" textLength="26" lengthAdjust="spacingAndGlyphs">2020</text>
<text class="lg" x="1506.5" y="1236.9" textLength="26" lengthAdjust="spacingAndGlyphs">2019</text>
<text class="lg" x="1506.5" y="1255.5" textLength="26" lengthAdjust="spacingAndGlyphs">2018</text>
<text class="lg" x="1506.5" y="1274.1" textLength="26" lengthAdjust="spacingAndGlyphs">2017</text>
<text class="lg" x="1506.5" y="1292.7" textLength="26" lengthAdjust="spacingAndGlyphs">2016</text>
<text class="lg" x="1506.5" y="1311.3" textLength="26" lengthAdjust="spacingAndGlyphs">2015</text>
<text class="lg" x="1506.5" y="1329.9" textLength="26" lengthAdjust="spacingAndGlyphs">2014</text>
<text class="lg" x="1506.5" y="1348.5" textLength="26" lengthAdjust="spacingAndGlyphs">2013</text>
<text class="lg" x="1506.5" y="1367.1" textLength="26" lengthAdjust="spacingAndGlyphs">2012</text>
<text class="lg" x="1506.5" y="1385.7" textLength="26" lengthAdjust="spacingAndGlyphs">2011</text>
<text class="lg" x="1506.5" y="1404.3" textLength="26" lengthAdjust="spacingAndGlyphs">2010</text>
<text class="lg" x="1506.5" y="1422.9" textLength="26" lengthAdjust="spacingAndGlyphs">2009</text>
<text class="lg" x="1506.5" y="1441.5" textLength="26" lengthAdjust="spacingAndGlyphs">2008</text>
</g>
</g>
</svg>
